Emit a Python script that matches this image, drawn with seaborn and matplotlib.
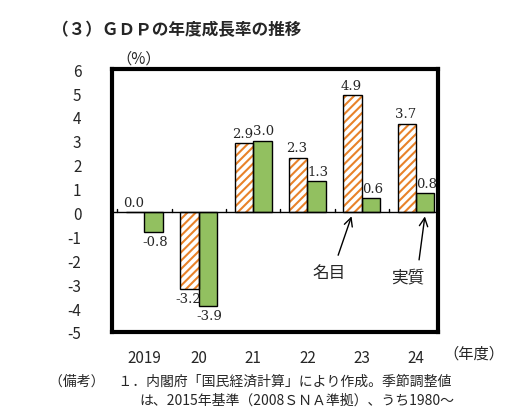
import matplotlib.pyplot as plt
import seaborn as sns
import pandas as pd
from matplotlib.patches import Rectangle, FancyArrowPatch

years = ["2019", "20", "21", "22", "23", "24"]
nominal = [0.0, -3.2, 2.9, 2.3, 4.9, 3.7]
real = [-0.8, -3.9, 3.0, 1.3, 0.6, 0.8]
series = ["名目", "実質"]

sns.set_style("white")
plt.rcParams['font.family'] = ['Noto Sans CJK JP', 'DejaVu Sans']
plt.rcParams['hatch.linewidth'] = 1.5

df = pd.DataFrame({
    "year": years * 2,
    "value": nominal + real,
    "kind": [series[0]] * 6 + [series[1]] * 6,
})

fig = plt.figure(figsize=(5.18, 4.10), dpi=100)
ax = fig.add_axes([0.216, 0.188, 0.629, 0.641])
sns.barplot(data=df, x="year", y="value", hue="kind", palette=["white", "#92D050"],
            width=0.68, edgecolor="black", linewidth=1, ax=ax, legend=False)
for p in ax.containers[0]:
    p.set_hatch("////")
    p.set_edgecolor("#E8822A")
    p.set_linewidth(0)
    ax.add_patch(Rectangle(p.get_xy(), p.get_width(), p.get_height(),
                           fill=False, edgecolor="black", lw=1, zorder=3))

for i, (n, r) in enumerate(zip(nominal, real)):
    for v, dx in ((n, -0.2), (r, 0.2)):
        y = v + 0.15 if v >= 0 else v - 0.15
        ax.text(i + dx, y, f"{v:.1f}", ha="center", va="bottom" if v >= 0 else "top",
                fontsize=9.5, family="DejaVu Serif")

ax.axhline(0, color="black", lw=1)
for i in range(7):
    ax.plot([i - 0.5, i - 0.5], [0, 0.15], color="black", lw=1)
ax.set_ylim(-5, 6)
ax.set_xlim(-0.6, 5.4)
ax.set_yticks(range(-5, 7))
ax.set_yticklabels([str(t) for t in range(-5, 7)], fontsize=11)
ax.tick_params(axis="x", labelsize=11, pad=12, length=0)
ax.tick_params(axis="y", length=0, pad=22)
ax.set_xlabel("")
ax.set_ylabel("")
for s in ax.spines.values():
    s.set_linewidth(3)
    s.set_color("black")

for tail, head in (((3.55, -1.9), (3.83, -0.05)), ((5.05, -2.1), (5.17, -0.05))):
    ax.add_patch(FancyArrowPatch(tail, head, arrowstyle="->", mutation_scale=15,
                                 lw=1, color="black", zorder=5))
ax.text(3.4, -2.7, "名目", fontsize=12, ha="center")
ax.text(4.85, -2.9, "実質", fontsize=12, ha="center")

fig.text(0.1, 0.915, "（３）ＧＤＰの年度成長率の推移", fontsize=12, weight="bold")
fig.text(0.225, 0.845, "（%）", fontsize=11)
fig.text(0.855, 0.125, "（年度）", fontsize=11)
fig.text(0.095, 0.06, "（備考）　１．内閣府「国民経済計算」により作成。季節調整値", fontsize=10)
fig.text(0.27, 0.012, "は、2015年基準（2008ＳＮＡ準拠）、うち1980～", fontsize=10)

fig.savefig("out.png", dpi=100)
